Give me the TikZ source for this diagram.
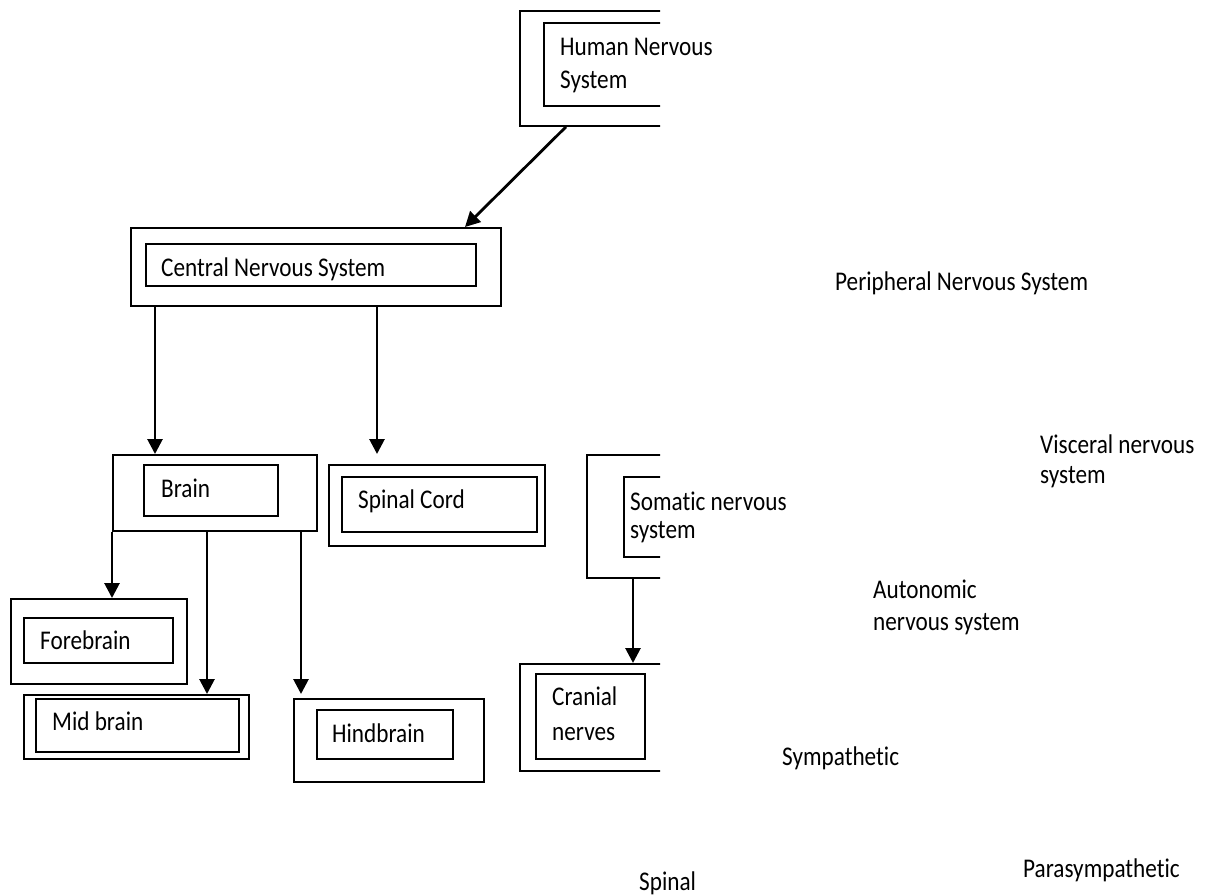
\documentclass[tikz,border=0pt]{standalone}
\usepackage{fontspec}
\setmainfont{Carlito}[FakeStretch=0.86, Ligatures=NoCommon]
\usetikzlibrary{arrows.meta}

\begin{document}
\begin{tikzpicture}[
  x=1bp, y=-1bp,
  font=\fontsize{27bp}{31bp}\selectfont,
  >={Triangle[length=15bp,width=15bp]},
  % --- boxes ---
  obox/.style={draw=black, line width=1.8bp, anchor=north west, inner sep=0pt},
  ibox/.style={obox},
  lbl/.style={anchor=base west, inner sep=0pt, align=left},
  % --- relations ---
  link/.style={->, line width=2.8bp},
]
\useasboundingbox (0,0) rectangle (1207,896);

% =================== BOXES CUT AT THE RIGHT ===================
\begin{scope}
  \clip (0,0) rectangle (660,896);
  % Human Nervous System
  \node[obox, minimum width=200bp, minimum height=115bp] (hnsO) at (519,10) {};
  \node[ibox, minimum width=200bp, minimum height=83bp] (hnsI) at (543,22) {};
  % Somatic nervous system
  \node[obox, minimum width=150bp, minimum height=123bp] (somO) at (586,454) {};
  \node[ibox, minimum width=150bp, minimum height=80bp] (somI) at (623,476) {};
  % Cranial nerves
  \node[obox, minimum width=200bp, minimum height=107bp] (craO) at (519,663) {};
\end{scope}
\node[ibox, minimum width=109bp, minimum height=85bp] (craI) at (535,673) {};

% =================== CENTRAL NERVOUS SYSTEM ===================
\node[obox, minimum width=370bp, minimum height=78bp] (cnsO) at (130,227) {};
\node[ibox, minimum width=330bp, minimum height=42bp] (cnsI) at (145,243) {};

\node[obox, minimum width=204bp, minimum height=76bp] (brainO) at (112,454) {};
\node[ibox, minimum width=134bp, minimum height=51bp] (brainI) at (143,464) {};

\node[obox, minimum width=216bp, minimum height=81bp] (spcO) at (328,464) {};
\node[ibox, minimum width=195bp, minimum height=55bp] (spcI) at (341,476) {};

\node[obox, minimum width=176bp, minimum height=85bp] (foreO) at (10,598) {};
\node[ibox, minimum width=149bp, minimum height=45bp] (foreI) at (23,617) {};

\node[obox, minimum width=225bp, minimum height=64bp] (midO) at (23,694) {};
\node[ibox, minimum width=203bp, minimum height=53bp] (midI) at (35,698) {};

\node[obox, minimum width=190bp, minimum height=83bp] (hindO) at (293,698) {};
\node[ibox, minimum width=136bp, minimum height=49bp] (hindI) at (316,709) {};

% =================== TEXTS (base = last line) ===================
\node[lbl] (hnsT) at (560,88) {Human Nervous\\[2bp]System};
\node[lbl] (cnsT) at (161,276) {Central Nervous System};
\node[lbl] (brainT) at (161,497) {Brain};
\node[lbl] (spcT) at (358,508) {Spinal Cord};
\node[lbl] (foreT) at (40,649) {Forebrain};
\node[lbl] (midT) at (52,730) {Mid brain};
\node[lbl] (hindT) at (332,742) {Hindbrain};
\node[lbl] (somT) at (630,538) {Somatic nervous\\[-3bp]system};
\node[lbl] (craT) at (552,740) {Cranial\\[4bp]nerves};

\node[lbl] (pnsT) at (835,290) {Peripheral Nervous System};
\node[lbl] (visT) at (1040,483) {Visceral nervous\\[-1bp]system};
\node[lbl] (autT) at (873,630) {Autonomic\\[1bp]nervous system};
\node[lbl] (symT) at (782,765) {Sympathetic};
\node[lbl] (parT) at (1023,877) {Parasympathetic};
\node[lbl] (spnT) at (639,890) {Spinal};

% =================== RELATIONS ===================
\draw[link] ([xshift=47bp]hnsO.south west) -- ([xshift=335bp]cnsO.north west);

\draw[link] ([xshift=25bp]cnsO.south west) -- ([xshift=25bp]cnsO.south west |- brainO.north);
\draw[link] ([xshift=247bp]cnsO.south west) -- ([xshift=247bp]cnsO.south west |- brainO.north);

\draw[link] (brainO.south west) -- (brainO.south west |- foreO.north);
\draw[link] ([xshift=95bp]brainO.south west) -- ([xshift=95bp]brainO.south west |- midO.north);
\draw[link] ([xshift=189bp]brainO.south west) -- ([xshift=189bp]brainO.south west |- midO.north);

\draw[link] ([xshift=47bp]somO.south west) -- ([xshift=47bp]somO.south west |- craO.north);

\end{tikzpicture}
\end{document}
